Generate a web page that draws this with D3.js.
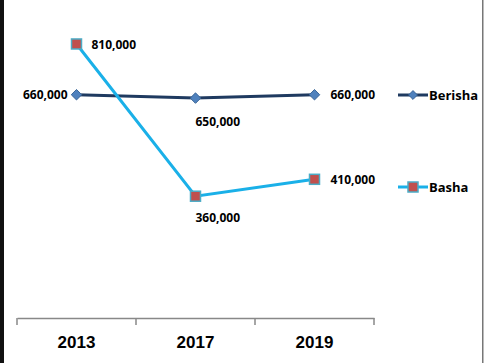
<!DOCTYPE html>
<html>
<head>
<meta charset="utf-8">
<script src="https://cdn.jsdelivr.net/npm/d3@7"></script>
<style>
  body { margin: 0; background: #fff; }
  svg { display: block; font-family: "Open Sans", "DejaVu Sans", sans-serif; }
</style>
</head>
<body>
<script>
// Chart data
const years = ["2013", "2017", "2019"];
const berisha = [660000, 650000, 660000];
const basha = [810000, 360000, 410000];
const seriesNames = ["Berisha", "Basha"];

const width = 484, height = 363;

const svg = d3.select("body").append("svg")
  .attr("width", width)
  .attr("height", height);

// frame edges
svg.append("rect").attr("x", 0).attr("y", 0).attr("width", 4).attr("height", height).attr("fill", "#111");
svg.append("rect").attr("x", 482).attr("y", 0).attr("width", 1.5).attr("height", height).attr("fill", "#777");

// Scales
const x = d3.scaleBand()
  .domain(years)
  .range([17, 374]);

const y = d3.scaleLinear()
  .domain([0, 940000])
  .range([318, 0]);

const cx = d => x(d) + x.bandwidth() / 2;

// X axis
const xAxis = d3.axisBottom(x).tickSize(0).tickPadding(18);
const gx = svg.append("g")
  .attr("transform", "translate(0,318)")
  .call(xAxis);
gx.select(".domain").attr("stroke", "#888").attr("stroke-width", 1.5);
gx.selectAll("text")
  .attr("font-size", 17)
  .attr("font-weight", "bold")
  .attr("fill", "#000");

// category separators
svg.append("g").selectAll("line")
  .data(years.concat(["end"]))
  .enter().append("line")
  .attr("x1", (d, i) => i < years.length ? x(d) : x(years[years.length - 1]) + x.bandwidth())
  .attr("x2", (d, i) => i < years.length ? x(d) : x(years[years.length - 1]) + x.bandwidth())
  .attr("y1", 318).attr("y2", 325)
  .attr("stroke", "#888").attr("stroke-width", 1.5);

const line = d3.line()
  .x((d, i) => cx(years[i]))
  .y(d => y(d));

// Berisha line
svg.append("path")
  .datum(berisha)
  .attr("d", line)
  .attr("fill", "none")
  .attr("stroke", "#1F3A60")
  .attr("stroke-width", 3);

svg.append("g").selectAll("path")
  .data(berisha)
  .enter().append("path")
  .attr("d", d3.symbol().type(d3.symbolDiamond2).size(70))
  .attr("transform", (d, i) => "translate(" + cx(years[i]) + "," + y(d) + ")")
  .attr("fill", "#4F81BD")
  .attr("stroke", "#3A6699")
  .attr("stroke-width", 1);

// Basha line
svg.append("path")
  .datum(basha)
  .attr("d", line)
  .attr("fill", "none")
  .attr("stroke", "#1AB0E8")
  .attr("stroke-width", 3);

svg.append("g").selectAll("rect")
  .data(basha)
  .enter().append("rect")
  .attr("x", (d, i) => cx(years[i]) - 5)
  .attr("y", d => y(d) - 5)
  .attr("width", 10).attr("height", 10)
  .attr("fill", "#C0504D")
  .attr("stroke", "#4BACC6")
  .attr("stroke-width", 1.5);

// Value labels
const fmt = d3.format(",");
const labelPos = {
  Berisha: [["left", -9, 4], ["below", 0, 28], ["right", 16, 4]],
  Basha: [["right", 15, 5], ["below", 0, 26], ["right", 16, 5]]
};

function addLabels(values, name) {
  svg.append("g").selectAll("text")
    .data(values)
    .enter().append("text")
    .attr("x", (d, i) => cx(years[i]) + labelPos[name][i][1])
    .attr("y", d => y(d))
    .attr("dy", (d, i) => labelPos[name][i][2])
    .attr("text-anchor", (d, i) => labelPos[name][i][0] === "left" ? "end" : "start")
    .attr("font-size", 12)
    .attr("font-weight", "bold")
    .attr("fill", "#000")
    .text(d => fmt(d));
}
addLabels(berisha, "Berisha");
addLabels(basha, "Basha");

// Legend
const legend = svg.append("g")
  .selectAll("g")
  .data(seriesNames)
  .enter().append("g")
  .attr("transform", (d, i) => "translate(398," + (i === 0 ? 95 : 187) + ")");

legend.append("line")
  .attr("x1", 0).attr("x2", 30)
  .attr("stroke", (d, i) => i === 0 ? "#1F3A60" : "#1AB0E8")
  .attr("stroke-width", 3);

legend.each(function(d, i) {
  const g = d3.select(this);
  if (i === 0) {
    g.append("path")
      .attr("d", d3.symbol().type(d3.symbolDiamond2).size(50))
      .attr("transform", "translate(15,0)")
      .attr("fill", "#4F81BD").attr("stroke", "#3A6699");
  } else {
    g.append("rect")
      .attr("x", 10).attr("y", -5).attr("width", 10).attr("height", 10)
      .attr("fill", "#C0504D").attr("stroke", "#4BACC6").attr("stroke-width", 1.5);
  }
});

legend.append("text")
  .attr("x", 31)
  .attr("dy", 5)
  .attr("font-size", 13)
  .attr("font-weight", "bold")
  .attr("fill", "#000")
  .text(d => d);
</script>
</body>
</html>
